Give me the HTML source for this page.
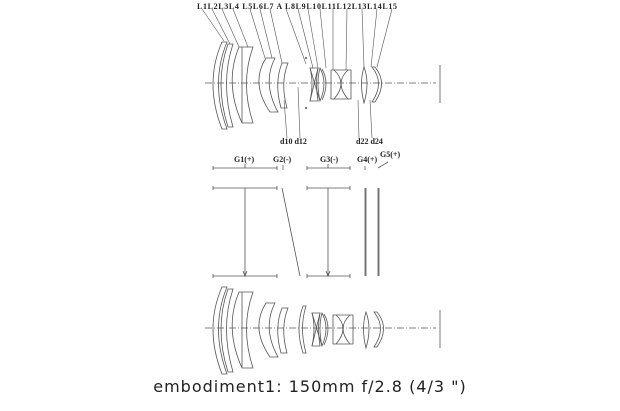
<!DOCTYPE html>
<html><head><meta charset="utf-8"><style>
html,body{margin:0;padding:0;background:#fff;}
body{width:620px;height:411px;overflow:hidden;position:relative;}
svg{position:absolute;left:0;top:0;}
.cap{position:absolute;left:0;width:620px;top:377px;text-align:center;font:16px "DejaVu Sans","Liberation Sans",sans-serif;color:#222;letter-spacing:1px;}
</style></head><body>
<svg width="620" height="411" viewBox="0 0 620 411" fill="none" stroke="#555" stroke-width="0.8">
<defs>
<g id="front">
  <path d="M222,-41 Q204,0 222,46 L227,46 Q210,0 227,-41 Z"/>
  <path d="M228,-39 Q214,0 228,44 L233,44 Q220,0 233,-39 Z"/>
  <path d="M239,-36 Q224,0 242,40 L253,40 Q240,0 253,-36 Z"/>
  <path d="M242,-36 L242,40"/>
  <path d="M266,-25 Q250,0 270,29 L278,29 Q262,0 275,-25 Z"/>
  <path d="M282,-20 Q274,0 281,25 L287,25 Q280,0 288,-20 Z"/>
</g>
<g id="rear">
  <path d="M310,-15 L318,-15 Q315,0 318,18 L310,18 Q314,0 310,-15 Z"/>
  <path d="M310,-15 L320,18 M318,-15 L310,18"/>
  <path d="M320,-15 Q328,0 320,18 Q316,0 320,-15 Z"/>
  <path d="M322,-14 Q330,0 322,17"/>
  <path d="M331,-13 L351,-13 L351,16 L331,16 Z"/>
  <path d="M334,-13 Q348,0 334,16 M348,-13 Q334,0 348,16"/>
  <path d="M364,-16 Q370,0 364,20 Q359,0 364,-16 Z"/>
  <path d="M372,-16 Q385,0 372,19 L375,19 Q388,0 375,-16 Z"/>
</g>
</defs>
<g transform="translate(0,83)">
  <use href="#front"/>
  <use href="#rear"/>
  <path d="M205,0 L436,0" stroke-dasharray="7,2,1,2"/>
  <path d="M440,-18 L440,20"/>
  <circle cx="306" cy="-25" r="0.6" fill="#555"/><circle cx="306" cy="25" r="0.6" fill="#555"/>
</g>
<g stroke-width="0.6">
<path d="M202,9 L224,41 M212,9 L230,44 M222,9 L239,47 M233,9 L248,47 M250,9 L265,58 M260,9 L272,58 M270,9 L282,63 M286,9 L306,64 M298,9 L313,68 M308,9 L318,68 M320,9 L326,68 M333,9 L333,70 M347,9 L346,70 M362,9 L364,67 M377,9 L371,67 M392,9 L377,67"/>
<path d="M284,100 L287,138 M298,87 L300,138 M358,100 L359,138 M370,100 L372,138"/>
</g>
<g font-family="Liberation Serif,serif" font-size="8" fill="#222" stroke="none" font-weight="bold">
<text x="197" y="9" textLength="200" lengthAdjust="spacing">L1L2L3L4 L5L6L7 A L8L9L10L11L12L13L14L15</text>
<text x="280" y="144">d10 d12</text>
<text x="356" y="144">d22 d24</text>
<text x="234" y="162">G1(+)</text>
<text x="273" y="162">G2(-)</text>
<text x="320" y="162">G3(-)</text>
<text x="357" y="162">G4(+)</text>
<text x="380" y="157">G5(+)</text>
</g>
<g stroke-width="0.8">
<path d="M213,168 L277,168 M213,166 L213,170 M277,166 L277,170 M245,164 L245,168"/>
<path d="M283,165 L283,170"/>
<path d="M307,168 L350,168 M307,166 L307,170 M350,166 L350,170 M328,164 L328,168"/>
<path d="M365,166 L365,170 M378,168 L388,162"/>
<path d="M213,188 L277,188 M213,186 L213,190 M277,186 L277,190 M245,188 L245,276"/>
<path d="M243,271 L245,276 L247,271"/>
<path d="M213,276 L277,276 M213,274 L213,278 M277,274 L277,278"/>
<path d="M282,188 L300,276"/>
<path d="M307,188 L350,188 M307,186 L307,190 M350,186 L350,190 M328,188 L328,276"/>
<path d="M326,271 L328,276 L330,271"/>
<path d="M307,276 L350,276 M307,274 L307,278 M350,274 L350,278"/>
<path d="M365,188 L365,276 M366,188 L366,276 M378,188 L378,276 M379,188 L379,276"/>
</g>
<g transform="translate(0,328)">
  <use href="#front"/>
  <path d="M303,-22 Q295,0 303,25 L306,25 Q299,0 306,-22 Z"/>
  <use href="#rear" transform="translate(2,0)"/>
  <path d="M205,0 L436,0" stroke-dasharray="7,2,1,2"/>
  <path d="M440,-18 L440,20"/>
</g>
</svg>
<div class="cap">embodiment1: 150mm f/2.8 (4/3 ")</div>
</body></html>
